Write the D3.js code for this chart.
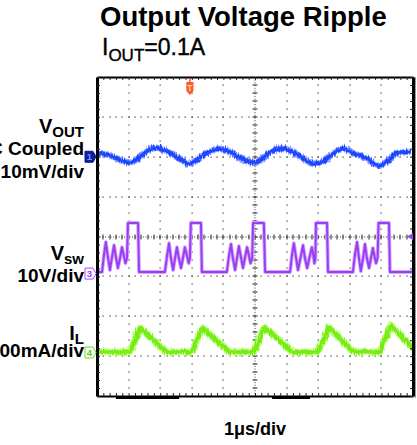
<!DOCTYPE html>
<html><head><meta charset="utf-8">
<script src="https://cdn.jsdelivr.net/npm/d3@7/dist/d3.min.js"></script>
<style>
html,body{margin:0;padding:0;background:#fff;}
svg{display:block;font-family:"Liberation Sans",Arial,Helvetica,sans-serif;}
</style></head><body>
<svg id="chart" width="417" height="445"></svg>
<script>
// ---------- DATA ----------
const title = "Output Voltage Ripple";
const timeLabel = "1\u03bcs/div";
// VOUT ripple (AC coupled), time in µs, value in mV
const voutT  = [0.00,0.32,0.63,0.98,1.30,1.61,1.87,2.15,2.53,2.88,3.26,3.58,3.83,4.11,4.43,4.68,4.94,5.22,5.47,5.79,6.11,6.42,6.84,7.15,7.47,7.75,8.10,8.54,8.86,9.18,9.49,9.91];
const voutMv = [1.25,0.75,-0.25,-1.25,0.0,2.0,2.5,1.75,0.0,-1.5,0.25,1.75,2.25,1.75,0.25,-0.75,-1.25,0.0,1.5,2.25,1.75,0.25,-1.5,-0.75,1.25,2.25,1.0,-0.25,-2.0,-0.75,1.25,1.5];
// Switch node voltage, time in µs, value in V
const vswT = [0,0.16,0.22,0.28,0.35,0.41,0.47,0.54,0.60,0.66,0.73,0.79,0.85,0.90,0.95,0.98,1.30,1.33,
  2.15,2.22,2.28,2.34,2.41,2.47,2.53,2.59,2.66,2.72,2.78,2.85,2.90,2.94,2.97,3.29,3.32,
  4.11,4.18,4.24,4.30,4.37,4.43,4.49,4.56,4.62,4.68,4.75,4.81,4.86,4.91,4.94,5.28,5.32,
  6.11,6.17,6.23,6.30,6.36,6.44,6.52,6.58,6.65,6.72,6.80,6.85,6.88,6.91,6.93,7.28,7.31,
  8.10,8.16,8.23,8.29,8.35,8.42,8.48,8.54,8.61,8.67,8.73,8.78,8.83,8.88,8.91,9.24,9.27,10];
const vswV = [0.4,0.4,4.6,7.9,3.9,0.9,3.9,7.1,4.1,1.4,3.9,6.6,4.4,2.6,3.9,12.7,12.7,0.4,
  0.4,4.6,7.6,3.9,0.9,3.9,6.6,3.9,1.4,3.9,6.6,4.4,2.6,3.9,12.7,12.7,0.4,
  0.4,4.6,7.4,3.9,0.9,3.9,6.9,3.9,1.4,3.9,6.6,4.4,2.6,3.9,12.7,12.7,0.4,
  0.4,4.6,7.6,3.9,0.9,3.9,7.1,3.9,1.4,3.9,6.6,4.4,2.6,3.9,12.7,12.7,0.4,
  0.4,4.6,7.9,3.9,0.6,3.9,7.4,3.9,1.4,3.9,6.4,4.4,2.6,3.9,12.7,12.7,0.4,0.4];
// Inductor current, time in µs, value in mA
const ilT  = [0,1.01,1.34,2.15,2.97,3.31,4.15,4.94,5.27,6.14,6.96,7.31,8.07,8.92,9.27,10];
const ilMa = [4,4,64,4,4,64,4,4,66,4,4,66,4,4,71,11];
// scope settings
const chOffsetDiv = {ch1: 2.0, ch3: -0.93, ch4: -2.91};
const chScale = {ch1: 10, ch3: 10, ch4: 100}; // per division

// ---------- CHART ----------
const svg = d3.select("#chart");
svg.append("rect").attr("width",417).attr("height",445).attr("fill","#fff");

// trace "noise" look (pure rendering effect)
const defs = svg.append("defs");
const f = defs.append("filter").attr("id","jag").attr("x","-5%").attr("y","-20%").attr("width","110%").attr("height","140%");
f.append("feTurbulence").attr("type","turbulence").attr("baseFrequency","0.9 0.08").attr("numOctaves",2).attr("seed",3).attr("result","n");
f.append("feDisplacementMap").attr("in","SourceGraphic").attr("in2","n").attr("scale",4)
  .attr("xChannelSelector","R").attr("yChannelSelector","G");

const x = d3.scaleLinear([0,10],[97,413]);
const yDiv = d3.scaleLinear([-4,4],[396,77]);
const chY = k => d3.scaleLinear(
  [(-4 - chOffsetDiv[k]) * chScale[k], (4 - chOffsetDiv[k]) * chScale[k]], [396,77]);
const y1 = chY("ch1"), y3 = chY("ch3"), y4 = chY("ch4");

const minorX = d3.range(0, 10.0001, 0.2);
const minorY = d3.range(-4, 4.0001, 0.2);
const majorX = [1,2,3,4,6,7,8,9];
const majorY = [-3,-2,-1,1,2,3];
const dotCol = "#3a3a3a";

const grid = svg.append("g");
majorX.forEach(v => {
  grid.selectAll(null).data(minorY.slice(1,-1)).join("rect")
    .attr("x", Math.round(x(v)) - 0.5).attr("y", d => Math.round(yDiv(d)) - 0.5)
    .attr("width", 1.2).attr("height", 1.2).attr("fill", dotCol);
});
majorY.forEach(v => {
  grid.selectAll(null).data(minorX.slice(1,-1)).join("rect")
    .attr("x", d => Math.round(x(d)) - 0.5).attr("y", Math.round(yDiv(v)) - 0.5)
    .attr("width", 1.2).attr("height", 1.2).attr("fill", dotCol);
});
const cx = Math.round(x(5)), cy = Math.round(yDiv(0));
grid.append("line").attr("x1",cx).attr("x2",cx).attr("y1",yDiv(4)).attr("y2",yDiv(-4))
  .attr("stroke",dotCol).attr("stroke-width",1).attr("stroke-dasharray","1,1.7");
grid.append("line").attr("y1",cy).attr("y2",cy).attr("x1",x(0)).attr("x2",x(10))
  .attr("stroke",dotCol).attr("stroke-width",1).attr("stroke-dasharray","1,1.7");
grid.selectAll(null).data(minorY.slice(1,-1)).join("line")
  .attr("x1",cx-2.5).attr("x2",cx+2.5).attr("y1",d=>Math.round(yDiv(d))).attr("y2",d=>Math.round(yDiv(d)))
  .attr("stroke","#222").attr("stroke-width",1);
grid.selectAll(null).data(minorX.slice(1,-1)).join("line")
  .attr("y1",cy-2.5).attr("y2",cy+2.5).attr("x1",d=>Math.round(x(d))).attr("x2",d=>Math.round(x(d)))
  .attr("stroke","#222").attr("stroke-width",1);

// ---------- traces ----------
const line = (ts, vs, ys, curve) => d3.line().x((d,i)=>x(ts[i])).y((d,i)=>ys(vs[i])).curve(curve)(ts);
const tr = svg.append("g");
const vPath = line(voutT, voutMv, y1, d3.curveMonotoneX);
const gv = tr.append("g").attr("filter","url(#jag)");
gv.append("path").attr("d",vPath).attr("fill","none").attr("stroke","#8aa0ff").attr("stroke-width",6.5).attr("stroke-linejoin","round");
gv.append("path").attr("d",vPath).attr("fill","none").attr("stroke","#1e46ff").attr("stroke-width",4).attr("stroke-linejoin","round");
const sPath = line(vswT, vswV, y3, d3.curveLinear);
tr.append("path").attr("d",sPath).attr("fill","none").attr("stroke","#d2a8ff").attr("stroke-width",3.8).attr("stroke-linejoin","round");
tr.append("path").attr("d",sPath).attr("fill","none").attr("stroke","#9b3df2").attr("stroke-width",2).attr("stroke-linejoin","round");
const iPath = line(ilT, ilMa, y4, d3.curveLinear);
const gi = tr.append("g").attr("filter","url(#jag)");
gi.append("path").attr("d",iPath).attr("fill","none").attr("stroke","#b8ff70").attr("stroke-width",7).attr("stroke-linejoin","round");
gi.append("path").attr("d",iPath).attr("fill","none").attr("stroke","#78ec16").attr("stroke-width",4.5).attr("stroke-linejoin","round");

// ---------- frame (axes) ----------
const ax = (g, w) => { g.selectAll(".tick line").attr("stroke","#222"); g.select(".domain").attr("stroke","#000").attr("stroke-width",w); };
svg.append("g").attr("transform",`translate(0,${yDiv(4)})`)
  .call(d3.axisTop(x).tickValues(minorX).tickSize(-3).tickSizeOuter(0).tickFormat(""))
  .call(g=>ax(g,2));
svg.append("g").attr("transform",`translate(0,${yDiv(-4)})`)
  .call(d3.axisBottom(x).tickValues(minorX).tickSize(-3).tickSizeOuter(0).tickFormat(""))
  .call(g=>ax(g,2));
svg.append("g").attr("transform",`translate(${x(0)},0)`)
  .call(d3.axisLeft(yDiv).tickValues(minorY).tickSize(-3).tickSizeOuter(0).tickFormat(""))
  .call(g=>ax(g,3));
svg.append("g").attr("transform",`translate(${x(10)},0)`)
  .call(d3.axisRight(yDiv).tickValues(minorY).tickSize(-3).tickSizeOuter(0).tickFormat(""))
  .call(g=>ax(g,3));
svg.append("line").attr("x1",x(10)+2.5).attr("x2",x(10)+2.5).attr("y1",yDiv(4)).attr("y2",yDiv(-4)+2)
  .attr("stroke","#999").attr("stroke-width",1);
[[0.6,2.6],[5.54,6.74]].forEach(s => svg.append("line").attr("x1",x(s[0])).attr("x2",x(s[1]))
  .attr("y1",yDiv(-4)+1.5).attr("y2",yDiv(-4)+1.5).attr("stroke","#000").attr("stroke-width",3));

// ---------- markers ----------
const mk = svg.append("g");
function chMarker(yc, label, stroke, fill, txt) {
  const g = mk.append("g").attr("transform",`translate(0,${yc})`);
  g.append("path").attr("d","M85,-5.5 L93,-5.5 L96,0 L93,5.5 L85,5.5 Z")
    .attr("fill",fill).attr("stroke",stroke).attr("stroke-width",1);
  g.append("text").attr("x",89.5).attr("y",3.5).attr("text-anchor","middle")
    .attr("font-size",9.5).attr("font-weight","bold").attr("fill",txt).text(label);
}
chMarker(y1(0), "1", "#0a1a8c", "#0d1f9c", "#7d95ff");
chMarker(y3(0), "3", "#a24cff", "#fff", "#9b3df2");
chMarker(y4(0), "4", "#66dd22", "#fff", "#58c81a");
const tx = x(2.94);
mk.append("path").attr("d",`M${tx-0.8},78.5 L${tx+0.8},78.5 L${tx+0.8},82 L${tx+3.6},82 L${tx+3.6},91 L${tx},95 L${tx-3.6},91 L${tx-3.6},82 L${tx-0.8},82 Z`)
  .attr("fill","#ff5a28");
mk.append("text").attr("x",tx).attr("y",90.5).attr("text-anchor","middle").attr("font-size",8.5)
  .attr("font-weight","bold").attr("fill","#ffd0b8").text("T");
mk.append("path").attr("d",`M${x(10)-6},${yDiv(0)} L${x(10)},${yDiv(0)-3.5} L${x(10)},${yDiv(0)+3.5} Z`).attr("fill","#9b3df2");

// ---------- texts ----------
const T = svg.append("g").attr("fill","#000");
T.append("text").attr("x",100).attr("y",26).attr("font-size",27.5).attr("font-weight","bold").text(title);
const sub = T.append("text").attr("x",102).attr("y",55).attr("font-size",23).attr("font-weight","normal")
  .attr("stroke","#000").attr("stroke-width",0.4);
sub.append("tspan").text("I");
sub.append("tspan").attr("font-size",17).attr("dy",6).text("OUT");
sub.append("tspan").attr("dy",-6).text("=0.1A");

function chLabel(yBase, main, subTxt, lines) {
  const t = T.append("text").attr("x",84).attr("y",yBase).attr("text-anchor","end")
    .attr("font-weight","bold").attr("font-size",20);
  t.append("tspan").text(main);
  t.append("tspan").attr("font-size",15).attr("dy",4).text(subTxt);
  lines.forEach(l => T.append("text").attr("x",84).attr("y",l[0]).attr("text-anchor","end")
    .attr("font-weight","bold").attr("font-size",19).text(l[1]));
}
chLabel(133, "V", "OUT", [[155,"AC Coupled"],[178,"10mV/div"]]);
chLabel(260, "V", "sw", [[282,"10V/div"]]);
chLabel(340, "I", "L", [[357,"100mA/div"]]);

T.append("text").attr("x",x(5)).attr("y",435).attr("text-anchor","middle")
  .attr("font-size",18).attr("font-weight","bold").text(timeLabel);
</script>
</body></html>
